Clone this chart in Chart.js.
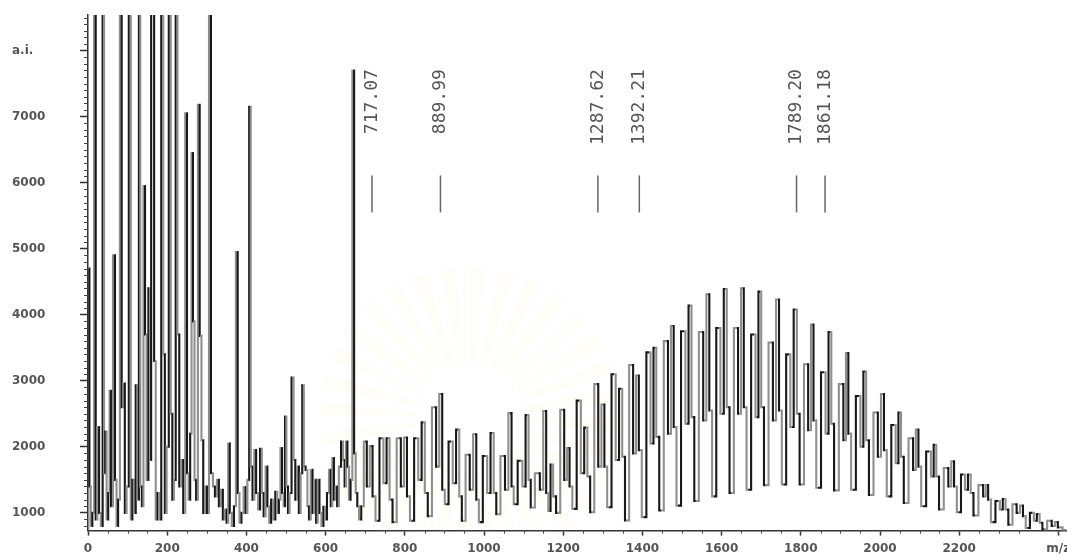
<!DOCTYPE html>
<html>
<head>
<meta charset="utf-8">
<script src="https://cdn.jsdelivr.net/npm/chart.js"></script>
<style>
  html, body { margin: 0; padding: 0; background: #fff; overflow: hidden; }
  #wrap { width: 1080px; height: 562px; }
</style>
</head>
<body>
<div id="wrap"><canvas id="spectrum" width="1080" height="562"></canvas></div>
<script>
// m/z and intensity (a.i.), split in three mass ranges
const lowMz = [0,2,5,9,13,18,21,26,30,35,39,42,45,49,53,56,60,66,70,74,78,83,87,91,95,100,106,110,114,118,123,127,130,134,138,142,146,150,155,158,161,165,169,173,178,182,188,192,196,201,207,211,215,219,224,228,233,238,243,248,252,256,260,263,267,271,275,280,284,289,293,298,303,308,313,318,323,328,333,338,343,348,352,356,360,366,371,376,380,385,390,396,400,405,409,413,418,422,427,432,437,441,446,451,455,460,465,470,476,480,484,488,492,496,499,503,507,511,517,521,526,530,535,539,543,547,552,556,560,565,569,574,578,582,587,592,597,601,606,611,615,619,623,627,631,636,642,646,650,653,657,661,665,670,674,678,682,687];
const lowAi = [760,4700,1400,800,1000,12000,900,2300,1000,800,12000,1600,2230,900,1300,2850,1100,4900,1500,800,1200,12000,2600,2960,1000,1400,12000,900,1500,1000,2930,1200,12000,1400,1100,5950,3700,1500,4400,1800,12000,12000,3300,900,1300,900,12000,3400,1000,2000,12000,2500,1200,1500,12000,3700,1400,1800,1000,7050,1600,1200,2200,6450,3900,1500,1200,7180,3680,2100,1000,1400,1000,12000,1600,1400,1250,1500,1100,1350,900,1050,850,2050,1000,800,1100,4950,1300,850,1000,1390,1000,1500,7150,1700,1200,1950,1300,1050,1970,1300,950,1700,1100,850,1200,900,1320,1000,1200,1980,1300,1100,2460,1400,1000,1300,3050,1800,1200,1700,1000,1600,2930,1700,1650,1100,900,1650,1000,1500,850,1500,1000,800,1090,900,1300,1650,1100,1830,1200,1400,1100,1700,2080,1800,1400,2080,1700,1200,1500,7700,1900,1300,1100,900];

const midMz = [693,700,708,715,722,730,742,750,758,765,773,786,794,802,809,817,830,838,847,854,862,875,883,891,898,904,917,925,934,941,947,960,968,977,984,990,1004,1012,1021,1028,1034,1049,1057,1066,1073,1077,1093,1101,1109,1116,1120,1137,1145,1154,1160,1165,1171,1178,1186];
const midAi = [1100,2080,1400,2010,1250,880,2130,1450,2130,1200,860,2130,1400,2140,1250,880,2130,1500,2370,1300,950,2600,1700,2800,1350,1130,2080,1450,2260,1250,880,1880,1350,2190,1200,860,1860,1300,2210,1300,980,1860,1350,2510,1400,1130,1790,1400,2480,1500,1080,1600,1350,2540,1300,1030,1730,1250,1000];

const highMz = [1199,1206,1213,1219,1227, 1241,1248,1258,1264,1272, 1285,1292,1301,1307,1315, 1329,1336,1346,1352,1360,
  1373,1380,1388,1394,1403, 1417,1424,1432,1438,1447, 1461,1468,1476,1482,1490, 1505,1512,1521,1527,1535,
  1550,1557,1566,1572,1580, 1593,1601,1610,1616,1624, 1638,1645,1653,1659,1667, 1682,1689,1697,1703,1711,
  1726,1733,1742,1748,1756, 1770,1777,1787,1793,1801, 1815,1822,1829,1835,1843, 1859,1866,1874,1880,1888,
  1904,1911,1917,1923,1931, 1947,1954,1962,1968,1976, 1991,1998,2007,2013,2021, 2036,2043,2050,2056,2064,
  2080,2087,2094,2100,2108, 2125,2132,2139,2145,2153, 2169,2176,2184,2190,2198, 2211,2218,2226,2232,2240,
  2257,2264,2270,2276,2284, 2299,2306,2314,2320,2328, 2341,2349,2358,2364,2372, 2385,2392,2400,2406,2414,
  2430,2437,2446,2452,2470];
const highAi = [2560,1500,1980,1400,1060, 2700,1600,2290,1550,1010, 2950,1700,2640,1700,1085, 3100,1800,2880,1850,885,
  3240,1900,3080,1950,935, 3430,2050,3500,2150,1035, 3600,2200,3830,2300,1110, 3750,2350,4140,2450,1180,
  3740,2400,4310,2550,1250, 3800,2500,4390,2600,1300, 3800,2500,4400,2600,1350, 3700,2450,4350,2600,1420,
  3580,2400,4230,2550,1430, 3400,2300,4080,2500,1430, 3250,2250,3850,2400,1380, 3130,2200,3740,2350,1340,
  2950,2100,3420,2200,1350, 2770,2000,3140,2100,1270, 2520,1850,2800,1950,1250, 2330,1750,2520,1850,1150,
  2130,1650,2260,1700,1100, 1930,1550,2030,1550,1050, 1680,1400,1780,1400,1010, 1580,1350,1580,1300,960,
  1420,1250,1420,1200,860, 1180,1050,1210,1050,820, 1130,1000,1110,950,770, 1000,880,980,850,750,
  880,800,860,780,740];

// axis ticks
const xTicks = [0,200,400,600,800,1000,1200,1400,1600,1800,2000,2200,2450];
const yTicks = [1000,2000,3000,4000,5000,6000,7000,8000];

// labelled peaks
const peakMz = [717.07, 889.99, 1287.62, 1392.21, 1789.20, 1861.18];
const peakLabels = ['717.07', '889.99', '1287.62', '1392.21', '1789.20', '1861.18'];

const mz = lowMz.concat(midMz, highMz);
const ai = lowAi.concat(midAi, highAi);
const points = mz.map((m, i) => ({ x: m, y: ai[i] }));

// faint sunburst watermark behind the trace
const watermark = {
  id: 'watermark',
  beforeDatasetsDraw(chart) {
    const { ctx, scales: { x, y } } = chart;
    const cx = x.getPixelForValue(965), cy = y.getPixelForValue(2450);
    ctx.save();
    ctx.beginPath();
    ctx.rect(chart.chartArea.left, chart.chartArea.top, chart.chartArea.width, chart.chartArea.height);
    ctx.clip();
    const n = 32;
    for (let k = 0; k < n; k++) {
      const a0 = (k / n) * 2 * Math.PI, a1 = a0 + Math.PI / n;
      ctx.beginPath();
      ctx.moveTo(cx + 55 * Math.cos(a0), cy + 55 * Math.sin(a0));
      ctx.arc(cx, cy, 150, a0, a1);
      ctx.arc(cx, cy, 55, a1, a0, true);
      ctx.closePath();
      ctx.fillStyle = 'rgba(248,238,196,0.13)';
      ctx.fill();
    }
    ctx.restore();
  }
};

const minorTicks = {
  id: 'minorTicks',
  afterDraw(chart) {
    const { ctx, scales: { x, y } } = chart;
    ctx.save();
    ctx.strokeStyle = '#444';
    ctx.lineWidth = 1;
    ctx.beginPath();
    for (let v = 50; v <= 2450; v += 50) {
      if (v % 200 === 0) continue;
      const px = Math.round(x.getPixelForValue(v)) + 0.5;
      ctx.moveTo(px, x.top);
      ctx.lineTo(px, x.top + 3);
    }
    for (let v = 800; v <= 8500; v += 100) {
      if (v % 1000 === 0) continue;
      const py = Math.round(y.getPixelForValue(v)) + 0.5;
      ctx.moveTo(y.right, py);
      ctx.lineTo(y.right - 4, py);
    }
    ctx.stroke();
    ctx.restore();
  }
};

const peakMarks = {
  id: 'peakMarks',
  afterDatasetsDraw(chart) {
    const { ctx, scales: { x, y } } = chart;
    ctx.save();
    peakMz.forEach((m, i) => {
      const px = x.getPixelForValue(m);
      ctx.strokeStyle = '#666';
      ctx.lineWidth = 1.5;
      ctx.beginPath();
      ctx.moveTo(px, y.getPixelForValue(6110));
      ctx.lineTo(px, y.getPixelForValue(5550));
      ctx.stroke();
      ctx.save();
      ctx.translate(px, y.getPixelForValue(7720));
      ctx.rotate(-Math.PI / 2);
      ctx.font = '18px "DejaVu Sans Mono"';
      ctx.fillStyle = '#555';
      ctx.textAlign = 'right';
      ctx.textBaseline = 'middle';
      ctx.fillText(peakLabels[i], 0, 0);
      ctx.restore();
    });
    ctx.restore();
  }
};

new Chart(document.getElementById('spectrum').getContext('2d'), {
  type: 'line',
  data: {
    datasets: [{
      data: points,
      borderWidth: 2.1,
      borderColor: '#333',
      pointRadius: 0,
      stepped: 'middle',
      segment: {
        borderColor: (c) => (c.p0DataIndex % 2 ? '#181818' : '#8f8f8f'),
      },
    }],
  },
  options: {
    responsive: false,
    animation: false,
    devicePixelRatio: 1,
    layout: { padding: { left: 12, top: 15, right: 0, bottom: 0 } },
    plugins: {
      legend: { display: false },
      tooltip: { enabled: false },
    },
    scales: {
      x: {
        type: 'linear',
        min: 0,
        max: 2505,
        afterBuildTicks: (axis) => { axis.ticks = xTicks.map((v) => ({ value: v })); },
        ticks: {
          autoSkip: false,
          maxRotation: 0,
          padding: 6,
          color: '#555',
          font: { family: 'DejaVu Sans', size: 12, weight: 'bold' },
          callback: (v) => (v === 2450 ? 'm/z' : String(v)),
        },
        grid: { drawOnChartArea: false, drawTicks: true, tickLength: 5, tickColor: '#333', tickWidth: 1.5 },
        border: { color: '#333', width: 1.5 },
      },
      y: {
        type: 'linear',
        min: 731,
        max: 8540,
        afterBuildTicks: (axis) => { axis.ticks = yTicks.map((v) => ({ value: v })); },
        afterFit: (axis) => { axis.width = 76; },
        ticks: {
          crossAlign: 'far',
          color: '#555',
          font: { family: 'DejaVu Sans', size: 12, weight: 'bold' },
          callback: (v) => (v === 8000 ? 'a.i.' : String(v)),
        },
        grid: { drawOnChartArea: false, drawTicks: true, tickLength: 8, tickColor: '#333', tickWidth: 1.5 },
        border: { color: '#333', width: 1.5 },
      },
    },
  },
  plugins: [watermark, minorTicks, peakMarks],
});
</script>
</body>
</html>
